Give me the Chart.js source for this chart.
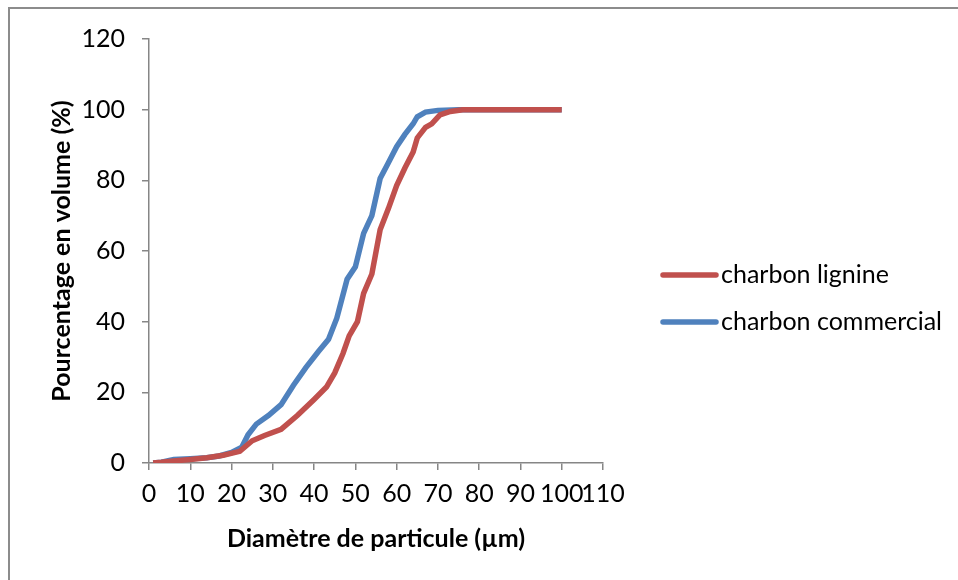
<!DOCTYPE html>
<html>
<head>
<meta charset="utf-8">
<script src="https://cdn.jsdelivr.net/npm/chart.js@4"></script>
<style>
  html, body { margin: 0; padding: 0; background: #fff; overflow: hidden; }
  #wrap { position: relative; width: 958px; height: 580px; overflow: hidden; }
  #frame { position: absolute; left: 8px; top: 7px; width: 1000px; height: 700px;
           border-top: 2px solid #8c8c8c; border-left: 2px solid #8c8c8c; }
  canvas { position: absolute; left: 0; top: 0; }
</style>
</head>
<body>
<div id="wrap">
  <div id="frame"></div>
  <canvas id="chart" width="958" height="580"></canvas>
</div>
<script>
// diameter (µm) / cumulative volume (%)
const ligX = [1, 3, 6, 10, 14, 18, 22, 25, 28, 32, 36, 40, 43, 45, 47, 48.5, 50.5, 52, 54, 56, 58, 60, 62, 64, 65, 67, 68.5, 70.5, 73, 76, 80, 90, 100];
const ligY = [0, 0.2, 0.6, 1, 1.5, 2.2, 3.3, 6.3, 7.8, 9.5, 13.5, 18, 21.5, 25.5, 31, 36, 40, 48, 53.5, 66, 72, 78.5, 83.5, 88, 92, 95, 96, 98.5, 99.5, 100, 100, 100, 100];

const comX = [1, 3, 6, 10, 14, 17, 20, 22.5, 24, 26, 29, 32, 35, 38, 41, 43.5, 45.5, 48, 50, 52, 54, 56, 58, 60, 62, 64, 65, 67, 70, 75, 80, 90, 100];
const comY = [0, 0.2, 1, 1.2, 1.5, 2, 3, 4.5, 8, 11, 13.5, 16.5, 22, 27, 31.5, 35, 41, 52, 55.5, 65, 70, 80.5, 85, 89.5, 93, 96, 98, 99.3, 99.8, 100, 100, 100, 100];

const seriesNames = ['charbon lignine', 'charbon commercial'];
const xTitle = 'Diamètre de particule (µm)';
const yTitle = 'Pourcentage en volume (%)';

const red = '#C0504D';
const blue = '#4F81BD';
const axisColor = '#868686';
const fontFamily = 'Lato';

function toPoints(xs, ys) {
  return xs.map((x, i) => ({ x: x, y: ys[i] }));
}

// legend drawn to the right of the plot, Excel style
const sideLegend = {
  id: 'sideLegend',
  afterDraw(chart) {
    const ctx = chart.ctx;
    const area = chart.chartArea;
    const x0 = area.right + 60;
    ctx.save();
    ctx.font = '25px ' + fontFamily;
    ctx.textBaseline = 'middle';
    ctx.textAlign = 'left';
    chart.data.datasets.forEach((ds, i) => {
      const y = area.top + 236 + i * 47;
      ctx.strokeStyle = ds.borderColor;
      ctx.lineWidth = 5.5;
      ctx.lineCap = 'round';
      ctx.beginPath();
      ctx.moveTo(x0, y);
      ctx.lineTo(x0 + 53, y);
      ctx.stroke();
      ctx.fillStyle = '#000';
      ctx.fillText(ds.label, x0 + 58, y);
    });
    ctx.restore();
  }
};

function draw() {
  const ctx = document.getElementById('chart').getContext('2d');
  new Chart(ctx, {
    type: 'scatter',
    data: {
      datasets: [
        {
          label: seriesNames[0],
          data: toPoints(ligX, ligY),
          showLine: true,
          borderColor: red,
          backgroundColor: red,
          borderWidth: 5.5,
          pointRadius: 0,
          tension: 0
        },
        {
          label: seriesNames[1],
          data: toPoints(comX, comY),
          showLine: true,
          borderColor: blue,
          backgroundColor: blue,
          borderWidth: 5.5,
          pointRadius: 0,
          tension: 0
        }
      ]
    },
    options: {
      responsive: false,
      animation: false,
      layout: { padding: { left: 0, right: 355, top: 39, bottom: 0 } },
      plugins: {
        legend: { display: false },
        tooltip: { enabled: false }
      },
      scales: {
        x: {
          type: 'linear',
          min: 0,
          max: 110,
          ticks: { stepSize: 10, color: '#000', font: { family: fontFamily, size: 25 }, padding: 9, maxRotation: 0, autoSkip: false },
          grid: { drawOnChartArea: false, drawTicks: true, tickLength: 7, color: axisColor, lineWidth: 1.5 },
          border: { color: axisColor, width: 1.5 },
          title: { display: true, text: xTitle, color: '#000', font: { family: fontFamily, size: 25, weight: 'bold' }, padding: { top: 0, bottom: 26 } },
          afterFit: s => { s.height = 117; }
        },
        y: {
          min: 0,
          max: 120,
          ticks: { stepSize: 20, color: '#000', font: { family: fontFamily, size: 25 }, padding: 17 },
          grid: { drawOnChartArea: false, drawTicks: true, tickLength: 7, color: axisColor, lineWidth: 1.5 },
          border: { color: axisColor, width: 1.5 },
          title: { display: true, text: yTitle, color: '#000', font: { family: fontFamily, size: 25, weight: 'bold' }, padding: { top: 47, bottom: 0 } },
          afterFit: s => { s.width = 149; }
        }
      }
    },
    plugins: [sideLegend]
  });
}

Promise.all([
  document.fonts.load('25px ' + fontFamily),
  document.fonts.load('bold 25px ' + fontFamily)
]).then(draw, draw);
</script>
</body>
</html>
